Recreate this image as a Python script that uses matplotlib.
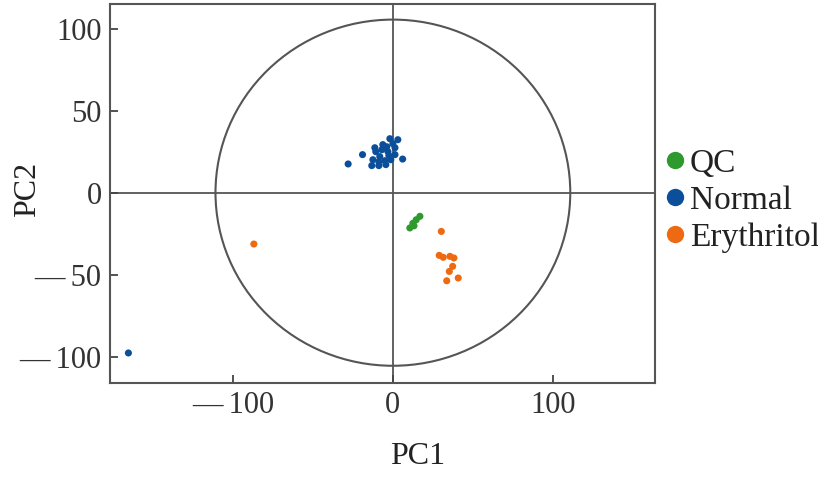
import matplotlib
matplotlib.use("Agg")
import matplotlib.pyplot as plt
from matplotlib.patches import Ellipse
from matplotlib.lines import Line2D

plt.rcParams['font.family'] = ['Liberation Serif', 'DejaVu Serif']

qc_x = [16.9, 14.6, 12.5, 10.6, 13.2]
qc_y = [-14.4, -16.5, -18.7, -21.5, -20.2]

normal_x = [-1.9, 3.1, 0.0, -3.8, -6.9, -3.1, -10.7, -8.2, -2.5, 1.3, -12.5, -8.8,
            -5.0, -1.3, -13.2, -8.8, -4.4, 1.3, -6.3, -11.3, -28.0, -19.0, 6.1, -165.5]
normal_y = [32.9, 32.3, 29.9, 28.0, 26.2, 25.0, 25.0, 22.0, 22.6, 23.2, 20.1, 18.9,
            19.5, 20.1, 16.5, 16.5, 17.1, 27.4, 29.3, 27.4, 17.5, 23.2, 20.5, -97.7]

ery_x = [30.3, 29.0, 31.5, 35.7, 38.2, 37.4, 35.3, 33.7, 40.9, -87.0]
ery_y = [-23.6, -38.2, -39.4, -38.8, -39.8, -44.9, -48.0, -53.7, -52.0, -31.3]

groups = ["QC", "Normal", "Erythritol"]
colors = ["#2e9a2e", "#0b4f9a", "#ee6a12"]

xticks = [-100, 0, 100]
xticklabels = ["\u2014\u2009100", "0", "100"]
yticks = [-100, -50, 0, 50, 100]
yticklabels = ["\u2014\u2009100", "\u2014\u200950", "0", "50", "100"]

fig = plt.figure(figsize=(8.18, 4.84), dpi=100)
ax = fig.add_axes([0.1345, 0.2087, 0.6662, 0.7830])

ax.axhline(0, color="#555555", lw=1.3, zorder=1)
ax.axvline(0, color="#555555", lw=1.3, zorder=1)
ax.add_patch(Ellipse((0, 0), 222, 211, fill=False, ec="#555555", lw=1.5, zorder=1))

for xs, ys, c in zip([qc_x, normal_x, ery_x], [qc_y, normal_y, ery_y], colors):
    ax.scatter(xs, ys, s=26, color=c, edgecolors="none", zorder=3)

ax.set_xlim(-177, 164)
ax.set_ylim(-116, 115)
ax.set_xticks(xticks)
ax.set_xticklabels(xticklabels)
ax.set_yticks(yticks)
ax.set_yticklabels(yticklabels)
ax.tick_params(direction="in", length=6, width=1.3, color="#444444",
               labelsize=22, labelcolor="#333333", pad=6)
for sp in ax.spines.values():
    sp.set_color("#555555")
    sp.set_linewidth(1.5)

ax.set_xlabel("PC1", fontsize=23, color="#222222")
ax.set_ylabel("PC2", fontsize=23, color="#222222")
ax.xaxis.set_label_coords(0.565, -0.155)
ax.yaxis.set_label_coords(-0.125, 0.51)

handles = [Line2D([], [], marker="o", linestyle="none", markersize=12.5,
                  markerfacecolor=c, markeredgecolor="none") for c in colors]
leg = fig.legend(handles, groups, loc="upper left", bbox_to_anchor=(0.8085, 0.694),
                 frameon=False, fontsize=24, handletextpad=0.05, labelspacing=0.2,
                 borderaxespad=0, handlelength=0.8, borderpad=0)
for t in leg.get_texts():
    t.set_color("#222222")

fig.savefig("out.png", dpi=100)
